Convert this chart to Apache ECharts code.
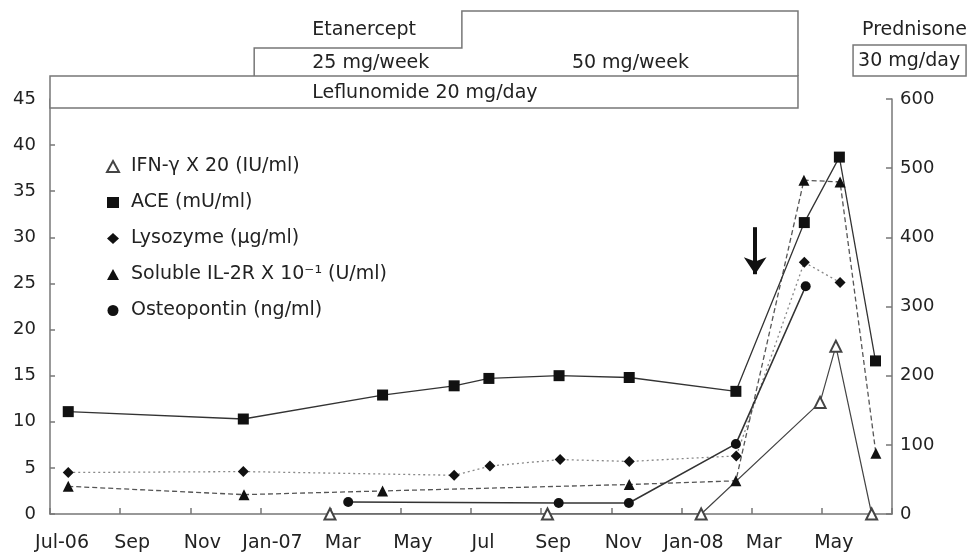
<!DOCTYPE html>
<html>
<head>
<meta charset="utf-8">
<script src="https://cdn.jsdelivr.net/npm/echarts@6/dist/echarts.min.js"></script>
<style>
	html, body { margin: 0; padding: 0; background: #fff; }
	#com-container { width: 971px; height: 556px; }
</style>
</head>
<body>
<div id="com-container"></div>
<script>
	// x axis is months counted from Jul-06, one tick label every 2 months
	var xTickLabels = ['Jul-06', 'Sep', 'Nov', 'Jan-07', 'Mar', 'May', 'Jul', 'Sep', 'Nov', 'Jan-08', 'Mar', 'May', ''];

	var ifnMonths = [7.98, 14.18, 18.56, 21.95, 22.4, 23.42];
	var ifnValues = [0, 0, 0, 12.1, 18.2, 0];

	var aceMonths = [0.52, 5.51, 9.48, 11.52, 12.51, 14.51, 16.51, 19.55, 21.5, 22.5, 23.53];
	var aceValues = [11.1, 10.3, 12.9, 13.9, 14.7, 15.0, 14.8, 13.3, 31.6, 38.7, 16.6];

	var lysoMonths = [0.52, 5.51, 11.52, 12.54, 14.54, 16.51, 19.56, 21.5, 22.52];
	var lysoValues = [4.5, 4.6, 4.2, 5.2, 5.9, 5.7, 6.3, 27.3, 25.1];

	var il2rMonths = [0.52, 5.53, 9.48, 16.51, 19.55, 21.49, 22.52, 23.54];
	var il2rValues = [3.0, 2.1, 2.5, 3.2, 3.6, 36.2, 36.0, 6.6];

	var optnMonths = [8.5, 14.5, 16.5, 19.55, 21.54];
	var optnValues = [1.3, 1.2, 1.2, 7.6, 24.7];

	// treatment periods (months), drawn above the plot
	var leflunomideSpan = [0, 21.32];
	var etanerceptSpan = [5.82, 11.74, 21.32];
	var prednisoneStart = 22.89;

	// arrow: month, from value, to value
	var arrowMonth = 20.1;
	var arrowFrom = 31.1;
	var arrowTo = 26.0;

	var fontFamily = 'DejaVu Sans';
	var axisColor = '#777';
	var textColor = '#222';

	function pairs(xs, ys) {
		var out = [];
		for (var i = 0; i < xs.length; i++) {
			out.push([xs[i], ys[i]]);
		}
		return out;
	}

	var myChart = echarts.init(document.getElementById('com-container'));

	var option = {
		animation: false,
		backgroundColor: '#fff',
		textStyle: { fontFamily: fontFamily, color: textColor },
		grid: { left: 50, right: 79, top: 99, bottom: 42 },
		legend: {
			orient: 'vertical',
			left: 101,
			top: 152,
			itemWidth: 12,
			itemHeight: 11,
			itemGap: 17,
			textStyle: { fontSize: 19, color: textColor, fontFamily: fontFamily, padding: [0, 0, 0, 7] },
			data: [
				{ name: 'IFN-γ X 20 (IU/ml)', icon: 'emptyTriangle', itemStyle: { borderWidth: 1 } },
				{ name: 'ACE (mU/ml)', icon: 'rect' },
				{ name: 'Lysozyme (μg/ml)', icon: 'diamond' },
				{ name: 'Soluble IL-2R X 10⁻¹ (U/ml)', icon: 'triangle' },
				{ name: 'Osteopontin (ng/ml)', icon: 'circle' }
			]
		},
		xAxis: {
			type: 'value',
			min: 0,
			max: 24,
			interval: 2,
			splitLine: { show: false },
			axisLine: { lineStyle: { color: axisColor, width: 1.5 } },
			axisTick: { inside: true, length: 6, lineStyle: { color: axisColor, width: 1.5 } },
			axisLabel: {
				fontSize: 19,
				color: textColor,
				margin: 20,
				padding: [0, 0, 0, 24],
				formatter: function (v) {
					return xTickLabels[Math.round(v / 2)] || '';
				}
			}
		},
		yAxis: [{
			type: 'value',
			min: 0,
			max: 45,
			interval: 5,
			splitLine: { show: false },
			axisLine: { show: true, lineStyle: { color: axisColor, width: 1.5 } },
			axisTick: { show: true, inside: true, length: 5, lineStyle: { color: axisColor, width: 1.5 } },
			axisLabel: { fontSize: 18, color: textColor, margin: 14 }
		}, {
			type: 'value',
			position: 'right',
			min: 0,
			max: 600,
			interval: 100,
			splitLine: { show: false },
			axisLine: { show: true, lineStyle: { color: axisColor, width: 1.5 } },
			axisTick: { show: true, inside: true, length: 6, lineStyle: { color: axisColor, width: 1.5 } },
			axisLabel: { fontSize: 18, color: textColor, margin: 8 }
		}],
		series: [{
			name: 'Lysozyme (μg/ml)',
			type: 'line',
			data: pairs(lysoMonths, lysoValues),
			symbol: 'diamond',
			symbolSize: 11,
			itemStyle: { color: '#111' },
			lineStyle: { color: '#888', width: 1.3, type: [2, 3] }
		}, {
			name: 'Soluble IL-2R X 10⁻¹ (U/ml)',
			type: 'line',
			data: pairs(il2rMonths, il2rValues),
			symbol: 'triangle',
			symbolSize: 11,
			itemStyle: { color: '#111' },
			lineStyle: { color: '#555', width: 1.3, type: [5, 3] }
		}, {
			name: 'Osteopontin (ng/ml)',
			type: 'line',
			data: pairs(optnMonths, optnValues),
			symbol: 'circle',
			symbolSize: 10,
			itemStyle: { color: '#111' },
			lineStyle: { color: '#333', width: 1.6 }
		}, {
			name: 'IFN-γ X 20 (IU/ml)',
			type: 'line',
			data: pairs(ifnMonths, ifnValues),
			symbol: 'emptyTriangle',
			symbolSize: 11,
			itemStyle: { color: '#444', borderWidth: 1.2 },
			lineStyle: { color: '#444', width: 1.2 }
		}, {
			name: 'ACE (mU/ml)',
			type: 'line',
			data: pairs(aceMonths, aceValues),
			symbol: 'rect',
			symbolSize: 11,
			itemStyle: { color: '#111' },
			lineStyle: { color: '#333', width: 1.3 },
			markLine: {
				silent: true,
				symbol: ['none', 'arrow'],
				symbolSize: 17,
				label: { show: false },
				lineStyle: { color: '#111', width: 4, type: 'solid' },
				data: [[{ coord: [arrowMonth, arrowFrom] }, { coord: [arrowMonth, arrowTo] }]]
			}
		}]
	};

	myChart.setOption(option);

	// treatment boxes above the plot, x taken from the month scale
	function px(m) {
		return myChart.convertToPixel({ xAxisIndex: 0 }, m);
	}
	var boxLine = { stroke: axisColor, lineWidth: 1.5 };
	var lx0 = px(leflunomideSpan[0]), lx1 = px(leflunomideSpan[1]);
	var ex0 = px(etanerceptSpan[0]), ex1 = px(etanerceptSpan[1]), ex2 = px(etanerceptSpan[2]);
	var pdx = px(prednisoneStart);

	function label(text, x, y) {
		return {
			type: 'text', x: x, y: y, z: 110,
			style: { text: text, fontSize: 19, fontFamily: fontFamily, fill: textColor, verticalAlign: 'middle' }
		};
	}

	myChart.setOption({
		graphic: [
			{ type: 'polyline', z: 100, shape: { points: [[ex0, 76], [ex0, 48], [ex1, 48], [ex1, 11], [ex2, 11], [ex2, 76]] }, style: { fill: null, stroke: boxLine.stroke, lineWidth: boxLine.lineWidth } },
			{ type: 'rect', z: 100, shape: { x: lx0, y: 76, width: lx1 - lx0, height: 32 }, style: { fill: '#fff', stroke: boxLine.stroke, lineWidth: boxLine.lineWidth } },
			{ type: 'rect', z: 100, shape: { x: pdx, y: 45, width: 113, height: 31 }, style: { fill: '#fff', stroke: boxLine.stroke, lineWidth: boxLine.lineWidth } },
			label('Etanercept', ex0 + 58, 30),
			label('25 mg/week', ex0 + 58, 63),
			label('50 mg/week', ex1 + 110, 63),
			label('Leflunomide 20 mg/day', ex0 + 58, 93),
			label('Prednisone', pdx + 9, 30),
			label('30 mg/day', pdx + 5, 61)
		]
	});
</script>
</body>
</html>
